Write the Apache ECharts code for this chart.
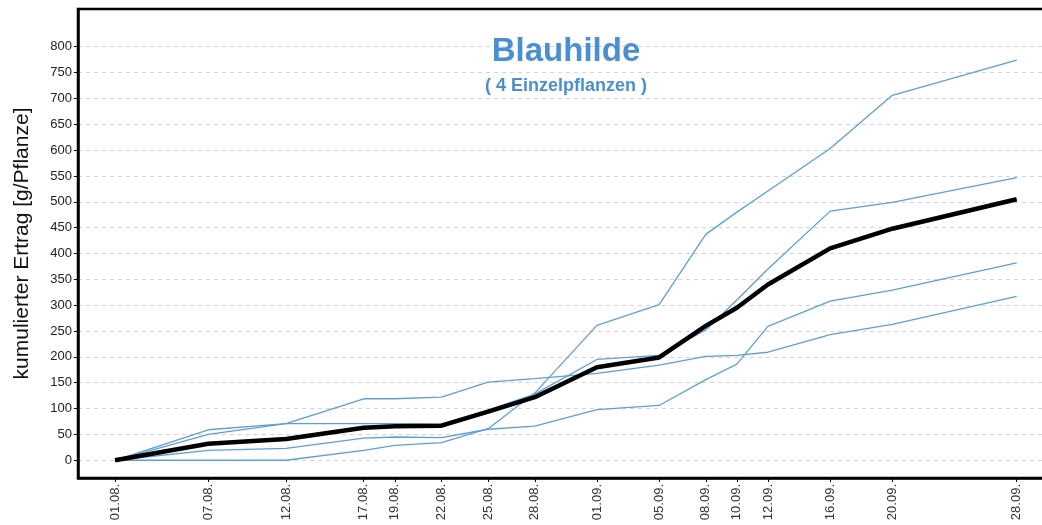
<!DOCTYPE html>
<html>
<head>
<meta charset="utf-8">
<script src="https://cdn.jsdelivr.net/npm/echarts@6/dist/echarts.min.js"></script>
<style>
html,body{margin:0;padding:0;background:#fff;}
#chart{width:1042px;height:525px;}
</style>
</head>
<body>
<div id="chart"></div>
<script>
// ---- data ----
const dateLabels = ['01.08.','07.08.','12.08.','17.08.','19.08.','22.08.','25.08.','28.08.','01.09.','05.09.','08.09.','10.09.','12.09.','16.09.','20.09.','28.09.'];
const plant1 = [0, 0, 0, 19, 29, 34, 61, 130, 261, 301, 437, 480, 521, 603, 706, 774];
const plant2 = [0, 50, 71, 71, 71, 70, 97, 128, 195, 203, 252, 310, 370, 482, 499, 547];
const plant3 = [0, 19, 23, 43, 45, 44, 60, 66, 98, 106, 156, 186, 259, 308, 329, 382];
const plant4 = [0, 59, 71, 119, 119, 122, 151, 158, 168, 184, 201, 203, 209, 243, 263, 317];
const meanValues = [0, 32, 41, 63, 66, 67, 94, 122, 180, 199, 260, 295, 340, 410, 448, 505];
const yTicks = [0,50,100,150,200,250,300,350,400,450,500,550,600,650,700,750,800];
const titleText = 'Blauhilde';
const subtitleText = '( 4 Einzelpflanzen )';
const yAxisName = 'kumulierter Ertrag [g/Pflanze]';

// day offsets (time-proportional x positions)
function dayOf(lbl){
  const p = lbl.split('.');
  return Date.UTC(2015, parseInt(p[1],10)-1, parseInt(p[0],10)) / 86400000;
}
const day0 = dayOf(dateLabels[0]);
const days = dateLabels.map(l => dayOf(l) - day0);
const pairs = arr => arr.map((v,i) => [days[i], v]);

const FONT = '"Liberation Sans", Arial, Helvetica, sans-serif';
const BLUE = '#5d9fd5';

const chart = echarts.init(document.getElementById('chart'), null, {renderer:'canvas'});
const blueSeries = [plant1, plant2, plant3, plant4].map((arr, k) => ({
  type:'line', name:'Pflanze ' + (k+1), data: pairs(arr), symbol:'none',
  lineStyle:{color:BLUE, width:1.3}, itemStyle:{color:BLUE}, z:3
}));
chart.setOption({
  animation:false,
  backgroundColor:'#fff',
  grid:{left:78, top:9, width:976, bottom:47, containLabel:false, outerBoundsMode:'none',
        show:true, borderColor:'#000', borderWidth:2.5, backgroundColor:'transparent'},
  xAxis:{
    type:'value', min:-2.38, max:60.4,
    splitLine:{show:false},
    axisLine:{show:true, onZero:false, lineStyle:{color:'#000', width:2.5}},
    axisTick:{show:true, customValues:days, length:4, lineStyle:{color:'#000', width:1}},
    axisLabel:{customValues:days, rotate:90, margin:6, color:'#333', fontFamily:FONT, fontSize:13,
      formatter: v => { const i = days.indexOf(v); return i >= 0 ? dateLabels[i] : ''; }}
  },
  yAxis:{
    type:'value', min:-34.3, max:873,
    name: yAxisName, nameLocation:'middle', nameGap:45,
    nameTextStyle:{color:'#111', fontFamily:FONT, fontSize:21},
    axisLine:{show:true, onZero:false, lineStyle:{color:'#000', width:2.5}},
    axisTick:{show:true, customValues:yTicks, length:4, lineStyle:{color:'#000', width:1}},
    axisLabel:{customValues:yTicks, margin:6, color:'#222', fontFamily:FONT, fontSize:13},
    splitLine:{show:true, lineStyle:{color:'#d4d4d4', width:1, type:[4,4]}}
  },
  graphic:[
    {type:'text', x:566, y:52, z:10, style:{text:titleText, fill:'#4a8fcf', font:'bold 33px ' + FONT, textAlign:'center', textVerticalAlign:'middle'}},
    {type:'text', x:566, y:86, z:10, style:{text:subtitleText, fill:'#4a8fcf', font:'bold 18px ' + FONT, textAlign:'center', textVerticalAlign:'middle'}}
  ],
  series: blueSeries.concat([{
    type:'line', name:'Mittelwert', data: pairs(meanValues), symbol:'none',
    lineStyle:{color:'#000', width:4.5}, itemStyle:{color:'#000'}, z:4
  }])
});
</script>
</body>
</html>
